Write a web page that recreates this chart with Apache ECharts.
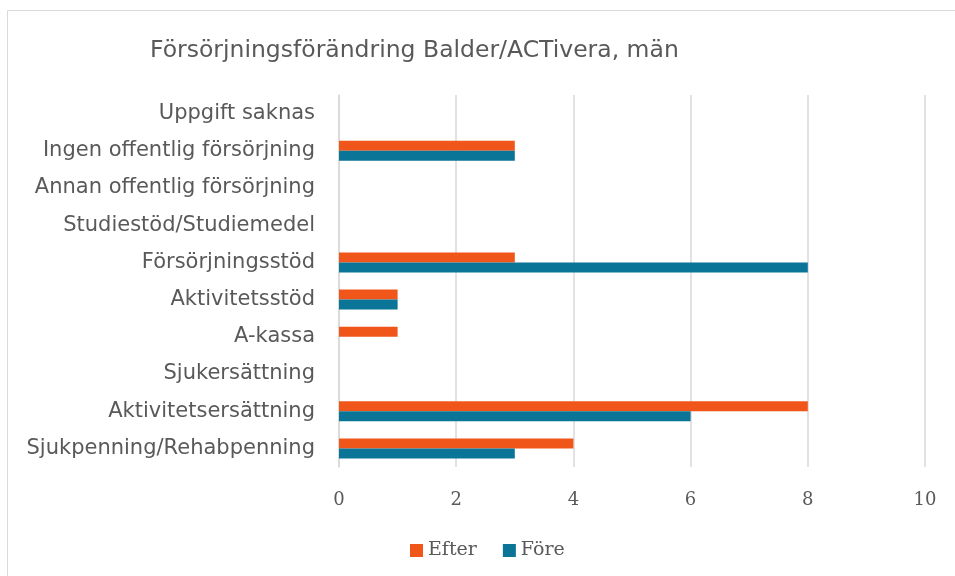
<!DOCTYPE html>
<html>
<head>
<meta charset="utf-8">
<script src="https://cdn.jsdelivr.net/npm/echarts@6/dist/echarts.min.js"></script>
<style>
  html, body { margin: 0; padding: 0; background: #fff; }
  #chart { width: 955px; height: 576px; }
</style>
</head>
<body>
<div id="chart"></div>
<script>
// categories bottom -> top
const categories = [
  'Sjukpenning/Rehabpenning',
  'Aktivitetsersättning',
  'Sjukersättning',
  'A-kassa',
  'Aktivitetsstöd',
  'Försörjningsstöd',
  'Studiestöd/Studiemedel',
  'Annan offentlig försörjning',
  'Ingen offentlig försörjning',
  'Uppgift saknas'
]
const efter = [4, 8, 0, 1, 1, 3, 0, 0, 3, 0]
const fore = [3, 6, 0, 0, 1, 8, 0, 0, 3, 0]

const chart = echarts.init(document.getElementById('chart'))
chart.setOption({
  animation: false,
  title: {
    text: 'Försörjningsförändring Balder/ACTivera, män',
    left: 145,
    top: 34,
    textStyle: { fontFamily: 'DejaVu Sans', fontWeight: 'normal', fontSize: 23.5, color: '#595959' }
  },
  // chart frame (only left and top edges are inside the picture)
  graphic: [
    { type: 'line', shape: { x1: 7.5, y1: 10.5, x2: 955, y2: 10.5 }, style: { stroke: '#d9d9d9', lineWidth: 1 } },
    { type: 'line', shape: { x1: 7.5, y1: 10.5, x2: 7.5, y2: 576 }, style: { stroke: '#d9d9d9', lineWidth: 1 } }
  ],
  legend: {
    data: ['Efter', 'Före'],
    left: 405,
    top: 536,
    itemWidth: 13,
    itemHeight: 13,
    itemGap: 26,
    icon: 'rect',
    textStyle: { fontFamily: 'DejaVu Serif', fontSize: 19, color: '#595959' }
  },
  grid: { left: 339, right: 30, top: 95, bottom: 109 },
  xAxis: {
    type: 'value',
    min: 0,
    max: 10,
    interval: 2,
    axisLine: { show: false },
    axisTick: { show: false },
    splitLine: { lineStyle: { color: '#d9d9d9', width: 1.5 } },
    axisLabel: { margin: 24, fontFamily: 'DejaVu Serif', fontSize: 18, color: '#595959' }
  },
  yAxis: {
    type: 'category',
    data: categories,
    axisLine: { show: true, lineStyle: { color: '#d9d9d9', width: 1.5 } },
    axisTick: { show: false },
    axisLabel: { margin: 24, padding: [6, 0, 0, 0], fontFamily: 'DejaVu Sans', fontSize: 21, color: '#595959' }
  },
  series: [
    { name: 'Efter', type: 'bar', data: efter, barWidth: 10, barGap: '0%', itemStyle: { color: '#F0561A' } },
    { name: 'Före', type: 'bar', data: fore, barWidth: 10, barGap: '0%', itemStyle: { color: '#0A7597' } }
  ]
})
</script>
</body>
</html>
